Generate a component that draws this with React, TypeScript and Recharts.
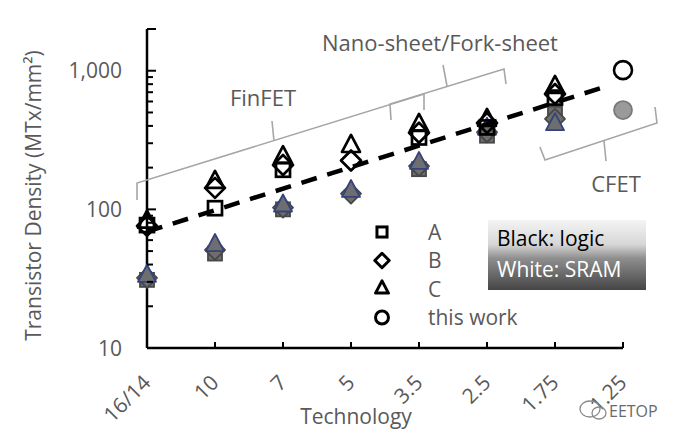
import React from 'react';
import { ScatterChart, Scatter, XAxis, YAxis, Legend } from 'recharts';

// ---------- data ----------
const categories = ['16/14', '10', '7', '5', '3.5', '2.5', '1.75', '1.25'];

// Black markers: logic density (MTx/mm²)
const logicA = [77, 102, 193, null, 330, 390, 640, null];
const logicB = [76, 143, 209, 225, 357, 420, 680, null];
const logicC = [81, 157, 237, 285, 405, 440, 760, null];
const logicThisWork = [null, null, null, null, null, null, null, 1010];

// Grey markers: SRAM density (MTx/mm²)
const sramA = [31, 48, 100, null, 195, 340, 490, null];
const sramB = [32, 51, 103, 130, 205, 360, 450, null];
const sramC = [33, 55, 106, 135, 215, 380, 410, null];
const sramThisWork = [null, null, null, null, null, null, null, 520];

// dashed trend line
const trendX = [0, 6.75];
const trendY = [69, 770];

const yTicks = [10, 20, 30, 40, 50, 60, 70, 80, 90, 100, 200, 300, 400, 500, 600, 700, 800, 900, 1000, 2000];
const yTickLabels: Record<number, string> = { 10: '10', 100: '100', 1000: '1,000' };

type Kind = 'square' | 'diamond' | 'triangle' | 'circle';

const legendItems: { name: string; kind: Kind }[] = [
  { name: 'A', kind: 'square' },
  { name: 'B', kind: 'diamond' },
  { name: 'C', kind: 'triangle' },
  { name: 'this work', kind: 'circle' },
];

// ---------- helpers ----------
const FONT = '"Open Sans", "Noto Sans", sans-serif';
const TEXT_GRAY = '#595959';

function toPoints(values: (number | null)[]) {
  const out: { x: number; y: number }[] = [];
  values.forEach((v, i) => {
    if (v != null) out.push({ x: i, y: v });
  });
  return out;
}
const trendPoints = trendX.map((x, i) => ({ x, y: trendY[i] }));

function Marker(props: {
  kind: Kind; cx: number; cy: number; scale?: number;
  fill: string; stroke: string; strokeWidth: number;
}) {
  const { kind, cx, cy, fill, stroke, strokeWidth } = props;
  const k = props.scale ?? 1;
  if (cx == null || cy == null || isNaN(cx) || isNaN(cy)) return <g />;
  if (kind === 'square') {
    const s = 14 * k;
    return <rect x={cx - s / 2} y={cy - s / 2} width={s} height={s} fill={fill} stroke={stroke} strokeWidth={strokeWidth} />;
  }
  if (kind === 'diamond') {
    const r = 10 * k;
    return <polygon points={`${cx},${cy - r} ${cx + r},${cy} ${cx},${cy + r} ${cx - r},${cy}`} fill={fill} stroke={stroke} strokeWidth={strokeWidth} strokeLinejoin="round" />;
  }
  if (kind === 'triangle') {
    const w = 18 * k;
    const h = 17 * k;
    return <polygon points={`${cx},${cy - (h * 2) / 3} ${cx + w / 2},${cy + h / 3} ${cx - w / 2},${cy + h / 3}`} fill={fill} stroke={stroke} strokeWidth={strokeWidth} strokeLinejoin="round" />;
  }
  return <circle cx={cx} cy={cy} r={9 * k} fill={fill} stroke={stroke} strokeWidth={strokeWidth} />;
}

const logicStyle = { fill: 'none', stroke: '#000', strokeWidth: 2.7 };
const sramStyle = (kind: Kind) => ({
  fill: kind === 'circle' ? '#9a9a9a' : '#6e6e6e',
  stroke: kind === 'triangle' ? '#34437e' : kind === 'circle' ? '#7a7a7a' : '#474747',
  strokeWidth: 1.8,
});

const makeShape = (kind: Kind, style: { fill: string; stroke: string; strokeWidth: number }) =>
  (p: any) => <Marker kind={kind} cx={p.cx} cy={p.cy} {...style} />;

function XTick(props: any) {
  const { x, y, payload } = props;
  const i = payload.value as number;
  return (
    <g>
      {i > 0 && <line x1={x} x2={x} y1={y} y2={y - 6} stroke="#000" strokeWidth={2} />}
      <text
        transform={`translate(${x + 5},${y + 36}) rotate(-45)`}
        textAnchor="end"
        fontFamily={FONT}
        fontSize={21}
        fill={TEXT_GRAY}
      >
        {categories[i]}
      </text>
    </g>
  );
}

function YTick(props: any) {
  const { x, y, payload } = props;
  const v = payload.value as number;
  const axisX = x + 25;
  const label = yTickLabels[v];
  const len = label || v === 2000 ? 9 : 6;
  return (
    <g>
      <line x1={axisX} x2={axisX + len} y1={y} y2={y} stroke="#000" strokeWidth={2} />
      {label && (
        <text x={x} y={y} dy="0.36em" textAnchor="end" fontFamily={FONT} fontSize={21} fill={TEXT_GRAY}>
          {label}
        </text>
      )}
    </g>
  );
}

function LegendContent() {
  return (
    <svg width={190} height={130} style={{ display: 'block', overflow: 'visible' }}>
      {legendItems.map((it, i) => {
        const cy = 22 + i * 28.5;
        return (
          <g key={it.name}>
            <Marker kind={it.kind} cx={12} cy={cy} scale={0.72} fill="none" stroke="#000" strokeWidth={3} />
            <text x={58} y={cy} dy="0.36em" fontFamily={FONT} fontSize={21} fill={TEXT_GRAY}>
              {it.name}
            </text>
          </g>
        );
      })}
    </svg>
  );
}

function Overlay() {
  const br = { fill: 'none', stroke: '#a6a6a6', strokeWidth: 1.6 };
  return (
    <svg width={681} height={435} style={{ position: 'absolute', left: 0, top: 0, pointerEvents: 'none' }}>
      <defs>
        <linearGradient id="boxGrad" x1="0" y1="0" x2="0" y2="1">
          <stop offset="0%" stopColor="#f4f4f4" />
          <stop offset="35%" stopColor="#d6d6d6" />
          <stop offset="55%" stopColor="#8e8e8e" />
          <stop offset="100%" stopColor="#454545" />
        </linearGradient>
      </defs>
      {/* FinFET bracket */}
      <path d="M137,200 L137,183 L424,94 L424,110" {...br} />
      <path d="M274,141 L272,121" {...br} />
      {/* Nano-sheet bracket */}
      <path d="M391,120 L390,104 L504,69 L506,84" {...br} />
      <path d="M447,86 L443,65" {...br} />
      {/* CFET bracket */}
      <path d="M540,147 L545,160 L657,123 L655,107" {...br} />
      <path d="M604,141 L606,161" {...br} />
      <text x={263} y={98} dy="0.36em" textAnchor="middle" fontFamily={FONT} fontSize={22} fill={TEXT_GRAY}>FinFET</text>
      <text x={440} y={43} dy="0.36em" textAnchor="middle" fontFamily={FONT} fontSize={22} fill={TEXT_GRAY}>Nano-sheet/Fork-sheet</text>
      <text x={616} y={184} dy="0.36em" textAnchor="middle" fontFamily={FONT} fontSize={22} fill={TEXT_GRAY}>CFET</text>
      {/* note box */}
      <rect x={488} y={220} width={158} height={70} fill="url(#boxGrad)" />
      <text x={497} y={246} fontFamily={FONT} fontSize={21} fill="#000">Black: logic</text>
      <text x={497} y={277} fontFamily={FONT} fontSize={21} fill="#fff">White: SRAM</text>
      {/* watermark */}
      <g stroke="#8a8a8a" strokeWidth={1.3} fill="none">
        <ellipse cx={590} cy={409} rx={10} ry={8} />
        <ellipse cx={599} cy={413} rx={7} ry={6} />
      </g>
      <text x={609} y={417} fontFamily={FONT} fontSize={16} fill="#6a6a6a">EETOP</text>
    </svg>
  );
}

export default function App() {
  return (
    <div style={{ position: 'absolute', left: 0, top: 0, width: 681, height: 435, background: '#fff' }}>
      <ScatterChart width={681} height={435} margin={{ top: 29, right: 58, bottom: 0, left: 0 }}>
        <XAxis
          type="number"
          dataKey="x"
          domain={[0, 7]}
          ticks={[0, 1, 2, 3, 4, 5, 6, 7]}
          interval={0}
          height={87}
          tickSize={0}
          tickMargin={0}
          tickLine={false}
          tick={(p: any) => <XTick {...p} />}
          axisLine={{ stroke: '#000', strokeWidth: 2.5 }}
          label={(p: any) => {
            const vb = p.viewBox || { x: 147, y: 348, width: 476, height: 87 };
            return (
              <text x={vb.x + vb.width / 2 - 29} y={vb.y + 76} textAnchor="middle" fontFamily={FONT} fontSize={21} fill={TEXT_GRAY}>
                Technology
              </text>
            );
          }}
        />
        <YAxis
          type="number"
          dataKey="y"
          scale="log"
          domain={[10, 2000]}
          ticks={yTicks}
          interval={0}
          width={147}
          tickSize={0}
          tickMargin={25}
          tickLine={false}
          tick={(p: any) => <YTick {...p} />}
          axisLine={{ stroke: '#000', strokeWidth: 2.5 }}
          label={(p: any) => {
            const vb = p.viewBox || { x: 0, y: 29, width: 147, height: 319 };
            const cx = vb.x + 33;
            const cy = vb.y + vb.height / 2 + 7;
            return (
              <text transform={`translate(${cx},${cy}) rotate(-90)`} dy="0.36em" textAnchor="middle" fontFamily={FONT} fontSize={21} fill={TEXT_GRAY}>
                Transistor Density (MTx/mm²)
              </text>
            );
          }}
        />
        <Legend
          layout="horizontal"
          verticalAlign="middle"
          align="center"
          content={() => <LegendContent />}
          wrapperStyle={{ position: 'absolute', left: 370, top: 210, width: 190, height: 130 }}
        />
        <Scatter name="A (SRAM)" data={toPoints(sramA)} shape={makeShape('square', sramStyle('square'))} isAnimationActive={false} legendType="none" />
        <Scatter name="B (SRAM)" data={toPoints(sramB)} shape={makeShape('diamond', sramStyle('diamond'))} isAnimationActive={false} legendType="none" />
        <Scatter name="C (SRAM)" data={toPoints(sramC)} shape={makeShape('triangle', sramStyle('triangle'))} isAnimationActive={false} legendType="none" />
        <Scatter name="this work (SRAM)" data={toPoints(sramThisWork)} shape={makeShape('circle', sramStyle('circle'))} isAnimationActive={false} legendType="none" />
        <Scatter
          name="trend"
          data={trendPoints}
          line={{ stroke: '#000', strokeWidth: 4.5, strokeDasharray: '16 11' }}
          lineType="joint"
          shape={() => <g />}
          isAnimationActive={false}
          legendType="none"
        />
        <Scatter name="A" data={toPoints(logicA)} shape={makeShape('square', logicStyle)} isAnimationActive={false} />
        <Scatter name="B" data={toPoints(logicB)} shape={makeShape('diamond', logicStyle)} isAnimationActive={false} />
        <Scatter name="C" data={toPoints(logicC)} shape={makeShape('triangle', logicStyle)} isAnimationActive={false} />
        <Scatter name="this work" data={toPoints(logicThisWork)} shape={makeShape('circle', { fill: '#fff', stroke: '#000', strokeWidth: 2.6 })} isAnimationActive={false} />
      </ScatterChart>
      <Overlay />
    </div>
  );
}
